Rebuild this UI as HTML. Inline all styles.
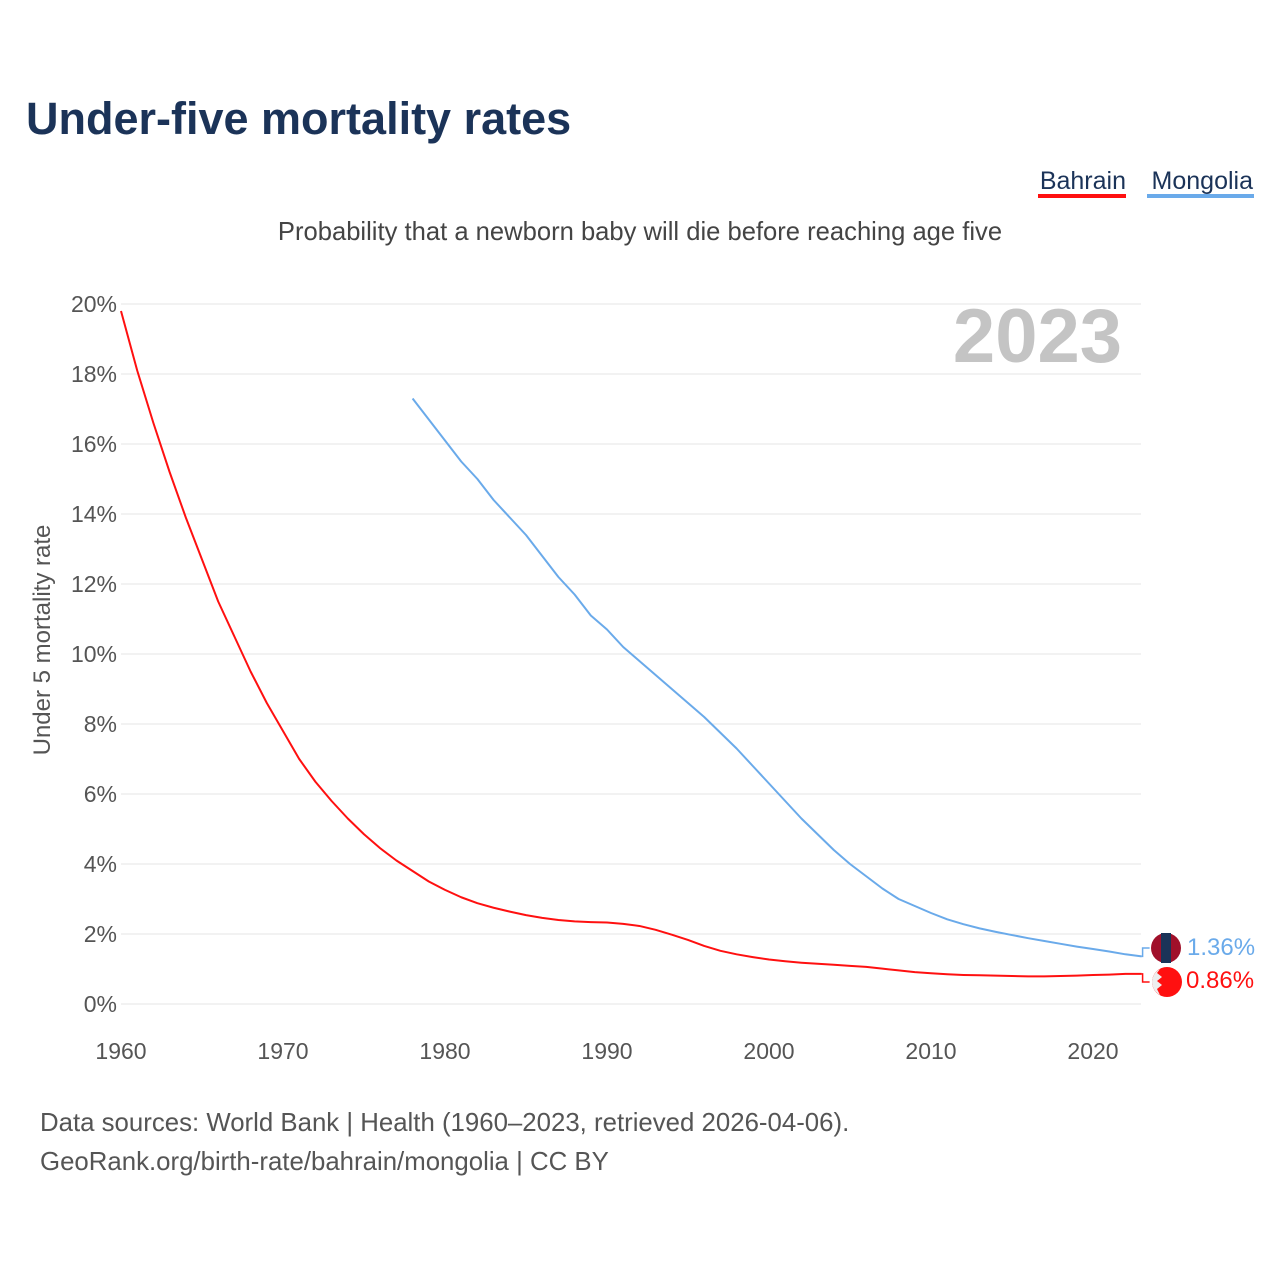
<!DOCTYPE html>
<html><head><meta charset="utf-8"><style>
body{margin:0;background:#fff;font-family:"Liberation Sans",sans-serif}
svg text{font-family:"Liberation Sans",sans-serif}
</style></head><body>
<svg width="1280" height="1280" viewBox="0 0 1280 1280">
<text x="26" y="134" font-size="45" font-weight="bold" fill="#1b3358">Under-five mortality rates</text>
<g><text x="1126" y="189" font-size="25" text-anchor="end" fill="#1b3358">Bahrain</text><rect x="1038" y="194" width="88" height="4" fill="#ff1010"/></g>
<g><text x="1253" y="189" font-size="25" text-anchor="end" fill="#1b3358">Mongolia</text><rect x="1147" y="194" width="107" height="4" fill="#6aaaea"/></g>
<text x="640" y="240" font-size="25.6" text-anchor="middle" fill="#444">Probability that a newborn baby will die before reaching age five</text>
<text x="1122" y="362" font-size="76" font-weight="bold" text-anchor="end" fill="#c4c4c4">2023</text>
<g id="grid"></g><g id="yt"></g><g id="xt"></g>
<text transform="translate(50,640) rotate(-90)" font-size="24" text-anchor="middle" fill="#555">Under 5 mortality rate</text>
<g id="series"></g>
<g>
<circle cx="1166" cy="948" r="15" fill="#a0102a"/><rect x="1161" y="933" width="10" height="30" fill="#1b3358"/>
<text x="1187" y="955" font-size="24" fill="#6aaaea">1.36%</text></g>
<g>
<circle cx="1167" cy="982" r="15" fill="#ff1010"/><path d="M1152 982 A15 15 0 0 1 1160 969 L1157 973 L1162 977 L1157 981 L1162 985 L1157 989 L1160 995 A15 15 0 0 1 1152 982Z" fill="#eee"/>
<text x="1186" y="988" font-size="24" fill="#ff1010">0.86%</text></g>
<text x="40" y="1131" font-size="25.8" fill="#555">Data sources: World Bank | Health (1960–2023, retrieved 2026-04-06).</text>
<text x="40" y="1170" font-size="25.8" fill="#555">GeoRank.org/birth-rate/bahrain/mongolia | CC BY</text>
</svg>
<script>
const yTicks=[0,2,4,6,8,10,12,14,16,18,20];
const xTicks=[1960,1970,1980,1990,2000,2010,2020];
const bahrainStart=1960;
const bahrainValues=[19.8,18.1,16.6,15.2,13.9,12.7,11.5,10.5,9.5,8.6,7.8,7.0,6.35,5.8,5.3,4.85,4.45,4.1,3.8,3.5,3.26,3.05,2.88,2.75,2.64,2.54,2.46,2.4,2.36,2.34,2.33,2.29,2.23,2.12,1.98,1.83,1.66,1.52,1.42,1.34,1.27,1.22,1.18,1.15,1.12,1.09,1.06,1.01,0.96,0.91,0.88,0.85,0.83,0.82,0.81,0.8,0.79,0.79,0.8,0.81,0.83,0.84,0.86,0.86];
const mongoliaStart=1978;
const mongoliaValues=[17.3,16.7,16.1,15.5,15.0,14.4,13.9,13.4,12.8,12.2,11.7,11.1,10.7,10.2,9.8,9.4,9.0,8.6,8.2,7.75,7.3,6.8,6.3,5.8,5.3,4.85,4.4,4.0,3.65,3.3,3.0,2.8,2.6,2.42,2.28,2.16,2.06,1.97,1.88,1.8,1.72,1.64,1.57,1.5,1.42,1.36];
const NS="http://www.w3.org/2000/svg";
const X=y=>121+(y-1960)*16.2;
const Y=v=>1004-v*35;
function mk(t,a,p){const e=document.createElementNS(NS,t);for(const k in a)e.setAttribute(k,a[k]);p.appendChild(e);return e;}
const grid=document.getElementById('grid'),yt=document.getElementById('yt'),xt=document.getElementById('xt'),ser=document.getElementById('series');
yTicks.forEach(v=>{
 const l=mk('line',{x1:121,x2:1141,y1:Y(v),y2:Y(v),stroke:'#e6e6e6','stroke-width':1},grid);
 
 
 const t=mk('text',{x:117,y:Y(v)+8,'font-size':23,'text-anchor':'end',fill:'#555'},yt);
 t.textContent=v+'%';
 
 
});
xTicks.forEach(v=>{
 const t=mk('text',{x:X(v),y:1059,'font-size':23,'text-anchor':'middle',fill:'#555'},xt);
 t.textContent=v;
 
 
});
function line(start,vals,col,name,labY){
 const pts=vals.map((v,i)=>X(start+i)+','+Y(v)).join(' ');
 const p=mk('polyline',{points:pts,fill:'none',stroke:col,'stroke-width':2,'stroke-linejoin':'round'},ser);
 
 
 const last=vals[vals.length-1],xe=X(start+vals.length-1);
 const c=mk('polyline',{points:`${xe},${Y(last)} ${xe+1},${Y(last)} ${xe+1},${labY} ${xe+8},${labY}`,fill:'none',stroke:col,'stroke-width':1.5},ser);
 
 
}
line(bahrainStart,bahrainValues,'#ff1010','bahrain-line',982);
line(mongoliaStart,mongoliaValues,'#6aaaea','mongolia-line',948);
</script>
</body></html>
